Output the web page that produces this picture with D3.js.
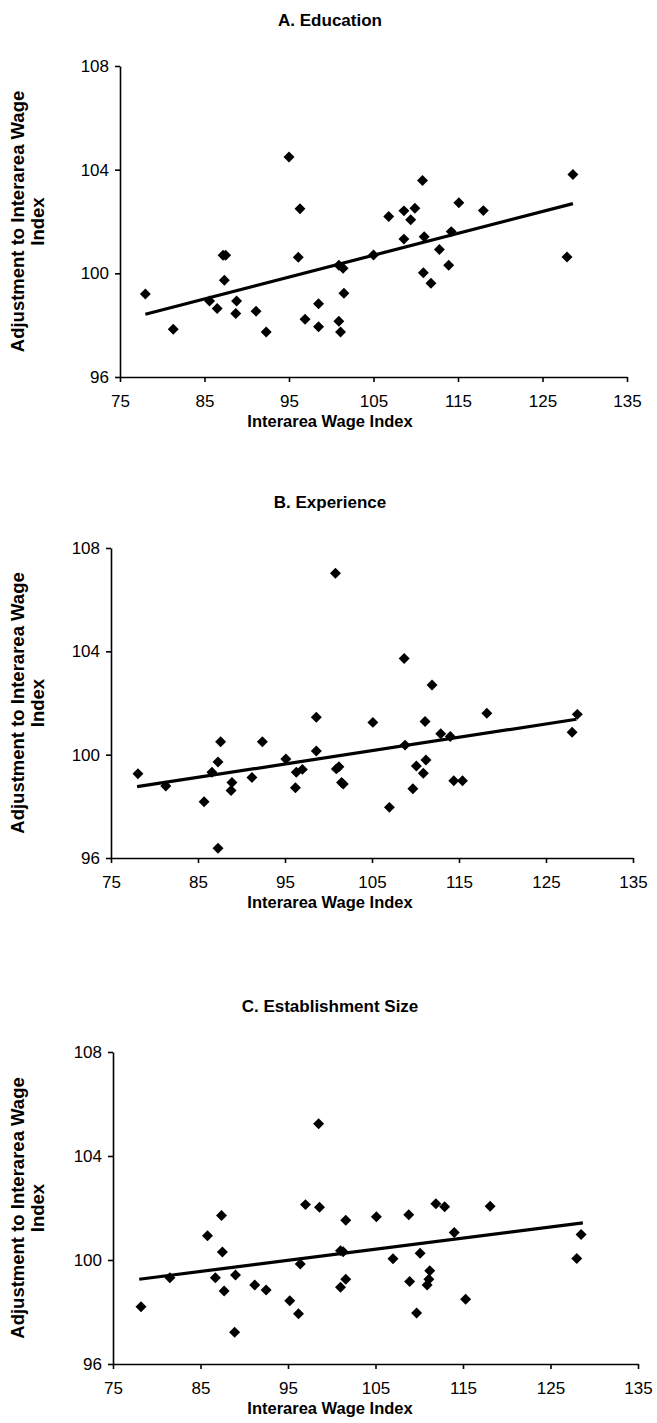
<!DOCTYPE html>
<html>
<head>
<meta charset="utf-8">
<script src="https://cdn.jsdelivr.net/npm/d3@7"></script>
<style>
  body { margin: 0; background: #fff; }
  svg text { font-family: "Liberation Sans", Arial, sans-serif; fill: #000; }
</style>
</head>
<body>
<div id="chart"></div>
<script>
// values
const titles = ["A. Education", "B. Experience", "C. Establishment Size"];
const xTitle = "Interarea Wage Index";
const yTitle = ["Adjustment to Interarea Wage", "Index"];
const xTicks = [75, 85, 95, 105, 115, 125, 135];
const yTicks = [96, 100, 104, 108];

const eduX = [78.0, 81.3, 85.6, 86.5, 87.2, 87.5, 87.35, 88.8, 88.7, 91.1, 92.3, 95.0, 96.3, 96.1, 96.9, 98.5, 98.5, 100.9, 101.4, 101.5, 100.9, 101.1, 105.0, 106.8, 108.6, 109.9, 109.4, 110.8, 108.6, 111.0, 114.2, 115.1, 118.0, 112.8, 113.9, 110.9, 111.8, 128.6, 127.9];
const eduY = [99.2, 97.84, 98.93, 98.64, 100.7, 100.7, 99.73, 98.93, 98.45, 98.54, 97.74, 104.49, 102.49, 100.62, 98.23, 98.83, 97.94, 100.31, 100.2, 99.23, 98.15, 97.74, 100.71, 102.19, 102.41, 102.51, 102.07, 103.58, 101.32, 101.41, 101.61, 102.72, 102.42, 100.92, 100.31, 100.02, 99.62, 103.81, 100.63];
const eduFit = [[78.0, 98.42], [128.6, 102.69]];

const expX = [78.1, 81.3, 85.7, 86.6, 87.6, 87.3, 87.3, 88.9, 88.8, 91.2, 92.4, 95.1, 96.3, 97.0, 96.2, 98.6, 98.6, 100.8, 100.9, 101.2, 101.5, 101.7, 105.1, 107.0, 108.7, 108.8, 111.9, 111.1, 112.9, 114.0, 118.2, 110.1, 111.2, 110.9, 109.7, 114.4, 115.4, 128.6, 128.0];
const expY = [99.26, 98.79, 98.18, 99.32, 100.5, 99.72, 96.38, 98.92, 98.61, 99.12, 100.5, 99.83, 99.32, 99.43, 98.72, 101.45, 100.14, 107.02, 99.45, 99.53, 98.92, 98.86, 101.25, 97.96, 103.72, 100.37, 102.7, 101.28, 100.81, 100.7, 101.6, 99.56, 99.79, 99.28, 98.68, 98.99, 98.99, 101.56, 100.87];
const expFit = [[78.0, 98.76], [128.5, 101.37]];

const sizeX = [78.2, 81.5, 85.8, 86.7, 87.4, 87.5, 87.7, 88.9, 89.0, 91.2, 92.5, 95.2, 96.2, 96.4, 97.0, 98.5, 98.6, 101.0, 101.3, 101.0, 101.6, 101.6, 105.1, 107.0, 108.8, 108.9, 109.7, 110.1, 110.9, 111.1, 111.2, 111.9, 112.9, 114.0, 115.3, 118.1, 128.5, 128.0];
const sizeY = [98.2, 99.32, 100.93, 99.32, 101.71, 100.31, 98.81, 97.22, 99.42, 99.04, 98.85, 98.43, 97.93, 99.85, 102.13, 105.24, 102.03, 100.36, 100.32, 98.95, 99.26, 101.53, 101.66, 100.05, 101.74, 99.17, 97.96, 100.26, 99.04, 99.26, 99.59, 102.16, 102.05, 101.06, 98.49, 102.07, 100.98, 100.06];
const sizeFit = [[78.0, 99.26], [128.7, 101.43]];

// panel placement on the page
const panels = [
    { title: titles[0], xs: eduX, ys: eduY, fit: eduFit, left: 120, right: 627, top: 66, bottom: 377 },
    { title: titles[1], xs: expX, ys: expY, fit: expFit, left: 111, right: 633, top: 548, bottom: 858 },
    { title: titles[2], xs: sizeX, ys: sizeY, fit: sizeFit, left: 113, right: 638, top: 1052, bottom: 1364 }
];

const svg = d3.select("#chart")
    .append("svg")
    .attr("width", 657)
    .attr("height", 1423);

const diamond = d3.symbol().type(d3.symbolSquare).size(60);

panels.forEach(p => {
    const x = d3.scaleLinear().domain([75, 135]).range([p.left, p.right]);
    const y = d3.scaleLinear().domain([96, 108]).range([p.bottom, p.top]);
    const g = svg.append("g");

    // panel title
    g.append("text")
        .attr("x", 330)
        .attr("y", p.top - 40)
        .attr("text-anchor", "middle")
        .style("font-size", "17px")
        .style("font-weight", "bold")
        .text(p.title);

    const xAxis = g.append("g")
        .attr("transform", `translate(0, ${p.bottom})`)
        .call(d3.axisBottom(x).tickValues(xTicks).tickSize(5).tickSizeOuter(0).tickPadding(13));
    const yAxis = g.append("g")
        .attr("transform", `translate(${p.left}, 0)`)
        .call(d3.axisLeft(y).tickValues(yTicks).tickSize(5).tickSizeOuter(0).tickPadding(6));

    [xAxis, yAxis].forEach(a => {
        a.selectAll("path, line").attr("stroke", "#000").attr("stroke-width", 1.6);
        a.selectAll("text").style("font-size", "17px").attr("fill", "#000");
    });

    // axis titles
    g.append("text")
        .attr("x", 330)
        .attr("y", p.bottom + 50)
        .attr("text-anchor", "middle")
        .style("font-size", "16.5px")
        .style("font-weight", "bold")
        .text(xTitle);

    const mid = (p.top + p.bottom) / 2;
    yTitle.forEach((t, i) => {
        g.append("text")
            .attr("transform", `translate(${24 + i * 20}, ${mid}) rotate(-90)`)
            .attr("text-anchor", "middle")
            .style("font-size", "18.5px")
            .style("font-weight", "bold")
            .text(t);
    });

    // regression line
    g.append("path")
        .datum(p.fit)
        .attr("fill", "none")
        .attr("stroke", "#000")
        .attr("stroke-width", 3.2)
        .attr("d", d3.line().x(d => x(d[0])).y(d => y(d[1])));

    // points
    g.append("g")
        .selectAll("path")
        .data(p.xs.map((v, i) => [v, p.ys[i]]))
        .join("path")
        .attr("transform", d => `translate(${x(d[0])}, ${y(d[1])}) rotate(45)`)
        .attr("d", diamond)
        .attr("fill", "#000");
});
</script>
</body>
</html>
